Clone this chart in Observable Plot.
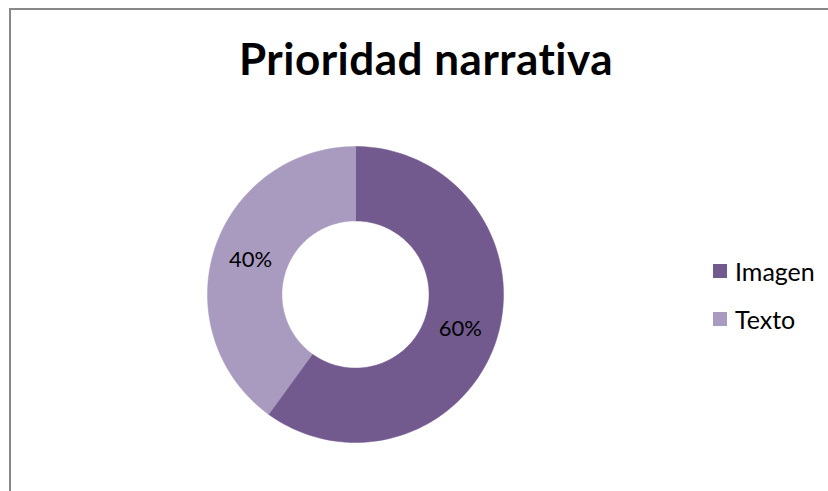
<!DOCTYPE html>
<html><head><meta charset="utf-8">
<script src="https://cdn.jsdelivr.net/npm/d3@7"></script>
<script src="https://cdn.jsdelivr.net/npm/@observablehq/plot@0.6"></script>
<style>
html,body{margin:0;padding:0;background:#fff;width:828px;height:491px;overflow:hidden;font-family:Lato,"Open Sans",sans-serif;}
#wrap{position:absolute;left:0;top:0;width:828px;height:491px;}
#frame{position:absolute;left:9px;top:8px;width:830px;height:500px;border-left:2px solid #888;border-top:2px solid #888;}
#title{position:absolute;left:0;width:852px;top:32px;text-align:center;font-weight:bold;font-size:44px;letter-spacing:0.5px;color:#000;line-height:normal;}
.li{position:absolute;left:713px;display:flex;align-items:center;height:30px;font-size:25px;color:#000;}
.sw{width:14px;height:14px;margin-right:8px;}
#chart{position:absolute;left:0;top:0;}
</style></head>
<body><div id="wrap"><div id="frame"></div><div id="title">Prioridad narrativa</div><div id="chart"></div><div id="legend"></div></div>
<script>
const categories = ["Imagen", "Texto"];
const values = [60, 40];
const colors = ["#725A8F", "#A99BC0"];
const labels = ["60%", "40%"];

const inner = 0.497;
const pie = d3.pie().sort(null).value(d => d.value)(categories.map((c, i) => ({cat: c, value: values[i]})));
const pts = [];
pie.forEach(s => {
  const n = 120;
  for (let k = 0; k <= n; k++) {
    const a = s.startAngle + (s.endAngle - s.startAngle) * k / n;
    pts.push({cat: s.data.cat, x: Math.sin(a), y: Math.cos(a)});
  }
  for (let k = n; k >= 0; k--) {
    const a = s.startAngle + (s.endAngle - s.startAngle) * k / n;
    pts.push({cat: s.data.cat, x: inner * Math.sin(a), y: inner * Math.cos(a)});
  }
});
const labelData = pie.map((s, i) => {
  const a = (s.startAngle + s.endAngle) / 2, r = 0.745;
  return {cat: s.data.cat, text: labels[i], x: r * Math.sin(a), y: r * Math.cos(a)};
});

const plot = Plot.plot({
  width: 828, height: 491, margin: 0,
  x: {domain: [-1, 1], range: [207, 503], axis: null},
  y: {domain: [-1, 1], range: [442, 146], axis: null},
  color: {domain: categories, range: colors},
  style: {background: "transparent", fontFamily: "Lato, 'Open Sans', sans-serif"},
  marks: [
    Plot.line(pts, {x: "x", y: "y", z: "cat", fill: "cat", stroke: "cat", strokeWidth: 0.5, curve: "linear-closed"}),
    Plot.text(labelData, {x: "x", y: "y", text: "text", fontSize: 22, fill: "#000"})
  ]
});
document.getElementById("chart").appendChild(plot);

const leg = document.getElementById("legend");
const rowCenters = [271, 319];
categories.forEach((c, i) => {
  const d = document.createElement("div"); d.className = "li";
  d.style.top = (rowCenters[i] - 15) + "px";
  d.innerHTML = `<div class="sw" style="background:${colors[i]}"></div><span>${c}</span>`;
  leg.appendChild(d);
});
</script></body></html>
